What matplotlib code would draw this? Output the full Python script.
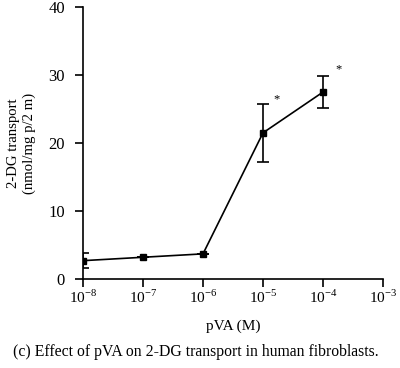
import matplotlib.pyplot as plt
import numpy as np

plt.rcParams['font.family'] = ['Liberation Serif', 'DejaVu Serif']
plt.rcParams['mathtext.fontset'] = 'custom'
plt.rcParams['mathtext.rm'] = 'Liberation Serif'

# data
conc = [1e-8, 1e-7, 1e-6, 1e-5, 1e-4]
transport = [2.7, 3.2, 3.7, 21.5, 27.5]
err_low = [1.1, 0.0, 0.0, 4.3, 2.4]
err_high = [1.1, 0.0, 0.0, 4.2, 2.4]
star_x = [1.7e-5, 1.8e-4]
star_y = [26.5, 30.8]
xticks = [1e-8, 1e-7, 1e-6, 1e-5, 1e-4, 1e-3]
xticklabels = ['$10^{-8}$', '$10^{-7}$', '$10^{-6}$', '$10^{-5}$', '$10^{-4}$', '$10^{-3}$']
yticks = [0, 10, 20, 30, 40]

fig = plt.figure(figsize=(4, 3.68), dpi=100)
ax = fig.add_axes([0.2075, 0.2418, 0.75, 0.739])

ax.errorbar(conc, transport, yerr=[err_low, err_high], fmt='s-', color='black',
            ms=5, lw=1.2, elinewidth=1.2, capsize=4, capthick=1.2)
for x, y in zip(star_x, star_y):
    ax.text(x, y, '*', ha='center', va='center', fontsize=9)

ax.set_xscale('log')
ax.set_xlim(1e-8, 1e-3)
ax.set_ylim(0, 40)
ax.set_xticks(xticks)
ax.set_xticklabels(xticklabels)
ax.minorticks_off()
ax.set_yticks(yticks)
ax.spines['top'].set_visible(False)
ax.spines['right'].set_visible(False)
ax.spines['left'].set_linewidth(1.2)
ax.spines['bottom'].set_linewidth(1.2)
ax.tick_params(direction='out', length=6, width=1.2, labelsize=11)
ax.tick_params(axis='x', pad=1)
ax.tick_params(axis='y', pad=7, labelsize=12)

ax.set_xlabel('pVA (M)', fontsize=11, labelpad=10)
ax.set_ylabel('2-DG transport\n(nmol/mg p/2 m)', fontsize=10.6, labelpad=9)

fig.text(0.49, 0.0435, '(c) Effect of pVA on 2-DG transport in human fibroblasts.',
         ha='center', va='center', fontsize=11.3)

plt.savefig('out.png', dpi=100)
